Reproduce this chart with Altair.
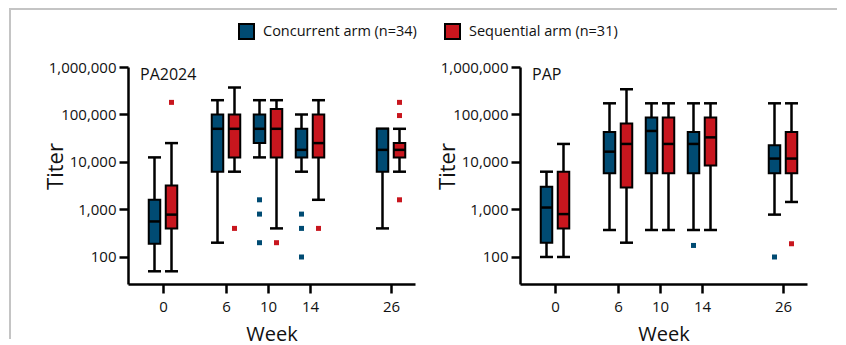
import altair as alt
import pandas as pd

FONT = "Open Sans"
WEEKS = [0, 6, 10, 14, 26]
PANELS = ["PA2024", "PAP"]
ARMS = ["Concurrent arm (n=34)", "Sequential arm (n=31)"]
COLORS = ["#004b73", "#c8161e"]
Y_TICKS = [100, 1000, 10000, 100000, 1000000]

# ---- PA2024 panel ----
PA_CON_MIN = [50, 200, 12500, 6250, 400]
PA_CON_Q1 = [190, 6250, 25000, 12500, 6250]
PA_CON_MED = [560, 50000, 50000, 18000, 18000]
PA_CON_Q3 = [1600, 100000, 100000, 50000, 50000]
PA_CON_MAX = [12500, 200000, 200000, 100000, 50000]
PA_CON_OUT_WEEK = [10, 10, 10, 14, 14, 14]
PA_CON_OUT_VAL = [1600, 800, 200, 800, 400, 100]

PA_SEQ_MIN = [50, 6250, 400, 1600, 6250]
PA_SEQ_Q1 = [400, 12500, 12500, 12500, 12500]
PA_SEQ_MED = [780, 50000, 50000, 25000, 18000]
PA_SEQ_Q3 = [3200, 100000, 130000, 100000, 25000]
PA_SEQ_MAX = [25000, 370000, 200000, 200000, 50000]
PA_SEQ_OUT_WEEK = [0, 6, 10, 14, 26, 26, 26]
PA_SEQ_OUT_VAL = [180000, 400, 200, 400, 180000, 95000, 1600]

# ---- PAP panel ----
PAP_CON_MIN = [100, 370, 370, 370, 780]
PAP_CON_Q1 = [200, 5800, 5800, 5800, 5800]
PAP_CON_MED = [1100, 16500, 45000, 24000, 11800]
PAP_CON_Q3 = [3000, 43000, 86000, 43000, 22400]
PAP_CON_MAX = [6250, 172000, 172000, 172000, 172000]
PAP_CON_OUT_WEEK = [14, 26]
PAP_CON_OUT_VAL = [175, 100]

PAP_SEQ_MIN = [100, 200, 370, 370, 1440]
PAP_SEQ_Q1 = [400, 2900, 5800, 8400, 5800]
PAP_SEQ_MED = [800, 24000, 24000, 33000, 11800]
PAP_SEQ_Q3 = [6250, 65000, 86000, 86000, 43000]
PAP_SEQ_MAX = [24000, 340000, 172000, 172000, 172000]
PAP_SEQ_OUT_WEEK = [26]
PAP_SEQ_OUT_VAL = [190]


def stats_df(arm, mn, q1, med, q3, mx):
    return pd.DataFrame({"week": WEEKS, "arm": arm, "lo": mn, "q1": q1,
                         "med": med, "q3": q3, "hi": mx})


def out_df(arm, weeks, vals):
    return pd.DataFrame({"week": weeks, "arm": arm, "val": vals})


PANEL_DATA = {
    "PA2024": [
        (stats_df(ARMS[0], PA_CON_MIN, PA_CON_Q1, PA_CON_MED, PA_CON_Q3, PA_CON_MAX),
         out_df(ARMS[0], PA_CON_OUT_WEEK, PA_CON_OUT_VAL)),
        (stats_df(ARMS[1], PA_SEQ_MIN, PA_SEQ_Q1, PA_SEQ_MED, PA_SEQ_Q3, PA_SEQ_MAX),
         out_df(ARMS[1], PA_SEQ_OUT_WEEK, PA_SEQ_OUT_VAL)),
    ],
    "PAP": [
        (stats_df(ARMS[0], PAP_CON_MIN, PAP_CON_Q1, PAP_CON_MED, PAP_CON_Q3, PAP_CON_MAX),
         out_df(ARMS[0], PAP_CON_OUT_WEEK, PAP_CON_OUT_VAL)),
        (stats_df(ARMS[1], PAP_SEQ_MIN, PAP_SEQ_Q1, PAP_SEQ_MED, PAP_SEQ_Q3, PAP_SEQ_MAX),
         out_df(ARMS[1], PAP_SEQ_OUT_WEEK, PAP_SEQ_OUT_VAL)),
    ],
}

W, H = 287, 217
OFFSETS = [-8.5, 8.5]


def make_panel(name, with_frame):
    xs = alt.Scale(domain=[-3.3, 0, 6, 10, 14, 26, 29.6],
                   range=[0, 35, 98, 140, 182, 263, W], nice=False, zero=False)
    ys = alt.Scale(type="log", domain=[27, 1000000], nice=False)
    xax = alt.Axis(values=WEEKS, title="Week", titleFontSize=20, titleY=56,
                   titleBaseline="alphabetic", labelPadding=6, format="d")
    yax = alt.Axis(values=Y_TICKS, title="Titer", format=",d", titleFontSize=22,
                   titleX=-66, titleY=99, titleAngle=270, titleAlign="center",
                   titleBaseline="alphabetic", labelPadding=3)
    X = alt.X("week:Q", scale=xs, axis=xax)
    layers = []
    if with_frame:
        dummy = alt.Chart(pd.DataFrame({"k": [0]}))
        layers.append(dummy.mark_rect(color="#c4c4c4", opacity=1).encode(
            x=alt.value(-119), x2=alt.value(-117), y=alt.value(-59), y2=alt.value(272)))
        layers.append(dummy.mark_rect(color="#c4c4c4", opacity=1).encode(
            x=alt.value(-119), x2=alt.value(709), y=alt.value(-59), y2=alt.value(-57)))
    for i, (sdf, odf) in enumerate(PANEL_DATA[name]):
        off = OFFSETS[i]
        base = alt.Chart(sdf)
        layers.append(base.mark_rule(color="black", strokeWidth=2.5, xOffset=off).encode(
            x=X, y=alt.Y("lo:Q", scale=ys, axis=yax), y2="hi:Q"))
        layers.append(base.mark_tick(orient="horizontal", color="black", size=13,
                                     thickness=2.5, xOffset=off, opacity=1).encode(
            x=X, y=alt.Y("lo:Q", scale=ys, axis=yax)))
        layers.append(base.mark_tick(orient="horizontal", color="black", size=13,
                                     thickness=2.5, xOffset=off, opacity=1).encode(
            x=X, y=alt.Y("hi:Q", scale=ys, axis=yax)))
        layers.append(base.mark_bar(width=11.5, xOffset=off, stroke="black",
                                    strokeWidth=2, opacity=1).encode(
            x=X, y=alt.Y("q1:Q", scale=ys, axis=yax), y2="q3:Q",
            fill=alt.Fill("arm:N", scale=alt.Scale(domain=ARMS, range=COLORS),
                          legend=alt.Legend(orient="none", legendX=110, legendY=-44,
                                            direction="horizontal", title=None,
                                            symbolType="square", symbolSize=225,
                                            symbolStrokeColor="black",
                                            symbolStrokeWidth=2, symbolOpacity=1,
                                            labelFont=FONT, labelFontSize=14.5,
                                            labelColor="#111", labelOffset=8,
                                            columnPadding=24))))
        layers.append(base.mark_tick(orient="horizontal", color="black", size=13,
                                     thickness=2.5, xOffset=off, opacity=1).encode(
            x=X, y=alt.Y("med:Q", scale=ys, axis=yax)))
        layers.append(alt.Chart(odf).mark_square(size=25, color=COLORS[i], opacity=1,
                                                 xOffset=off).encode(
            x=X, y=alt.Y("val:Q", scale=ys, axis=yax)))
    layers.append(alt.Chart(pd.DataFrame({"t": [name]})).mark_text(
        align="left", baseline="middle", fontSize=16, font=FONT, color="#111").encode(
        x=alt.value(12), y=alt.value(8), text="t:N"))
    return alt.layer(*layers).properties(width=W, height=H)


left = make_panel(PANELS[0], True)
right = make_panel(PANELS[1], False)

chart = alt.hconcat(left, right, spacing=105, bounds="flush").resolve_scale(
    fill="shared"
).properties(
    padding={"left": 1, "top": 0, "right": 0, "bottom": 0},
).configure_view(stroke=None).configure_axis(
    domainColor="black", domainWidth=2.5, tickColor="black", tickWidth=2.5,
    tickSize=9, labelFont=FONT, labelFontSize=15, labelColor="#111",
    titleFont=FONT, titleFontWeight="normal", titleColor="#111", grid=False,
)

chart.save("out.html", embed_options={"renderer": "svg", "actions": False})
